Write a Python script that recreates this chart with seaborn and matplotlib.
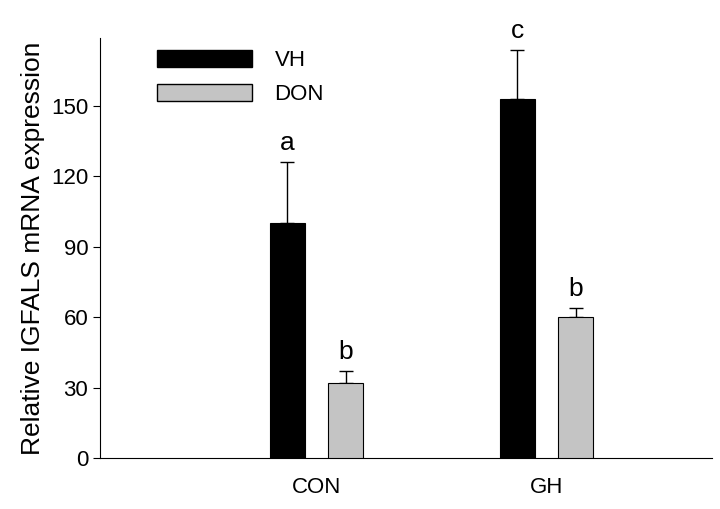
import matplotlib
matplotlib.use("Agg")
import matplotlib.pyplot as plt
import seaborn as sns
import pandas as pd
from matplotlib.patches import Patch

plt.rcParams["font.family"] = "Liberation Sans"

categories = ["CON", "GH"]
groups = ["VH", "DON"]
vh_values = [100, 153]
don_values = [32, 60]
vh_err = [26, 21]
don_err = [5, 4]
letters_vh = ["a", "c"]
letters_don = ["b", "b"]

df = pd.DataFrame({
    "cat": categories * 2,
    "grp": ["VH"] * 2 + ["DON"] * 2,
    "val": vh_values + don_values,
    "err": vh_err + don_err,
    "let": letters_vh + letters_don,
})

fig = plt.figure(figsize=(7.2, 5.09), dpi=100)
ax = fig.add_axes([0.139, 0.1002, 0.85, 0.825])
colors = {"VH": "black", "DON": "#c4c4c4"}
sns.barplot(data=df, x="cat", y="val", hue="grp", hue_order=groups, order=categories,
            palette=colors, width=0.51, ax=ax, errorbar=None, legend=False,
            edgecolor="black", linewidth=0.8, zorder=3)

bw = 0.152
bars = [p for p in ax.patches if p.get_height() > 0]
for p in bars:
    c = p.get_x() + p.get_width() / 2
    p.set_x(c - bw / 2)
    p.set_width(bw)
    h = p.get_height()
    row = df[(abs(df["val"] - h) < 1e-6)].iloc[0]
    ax.errorbar(c, h, yerr=[[0], [row["err"]]], color="black", capsize=5, lw=1, capthick=1, zorder=2)
    ax.text(c, h + row["err"] + 3, row["let"], ha="center", va="bottom", fontsize=19)

ax.set_xlim(-0.94, 1.72)
ax.set_ylim(0, 179)
ax.set_yticks([0, 30, 60, 90, 120, 150])
ax.set_xlabel("")
ax.set_ylabel("Relative IGFALS mRNA expression", fontsize=19)
ax.tick_params(labelsize=16, direction="out", length=5)
ax.tick_params(axis="x", length=0, pad=14)
for s in ["top", "right"]:
    ax.spines[s].set_visible(False)

handles = [Patch(facecolor="black", edgecolor="black"),
           Patch(facecolor="#c4c4c4", edgecolor="black")]
ax.legend(handles, groups, loc="upper left", bbox_to_anchor=(0.06, 1.02), frameon=False,
          fontsize=16, handlelength=4.3, handleheight=0.8, handletextpad=1.0, labelspacing=0.6)
fig.savefig("out.png", dpi=100)
